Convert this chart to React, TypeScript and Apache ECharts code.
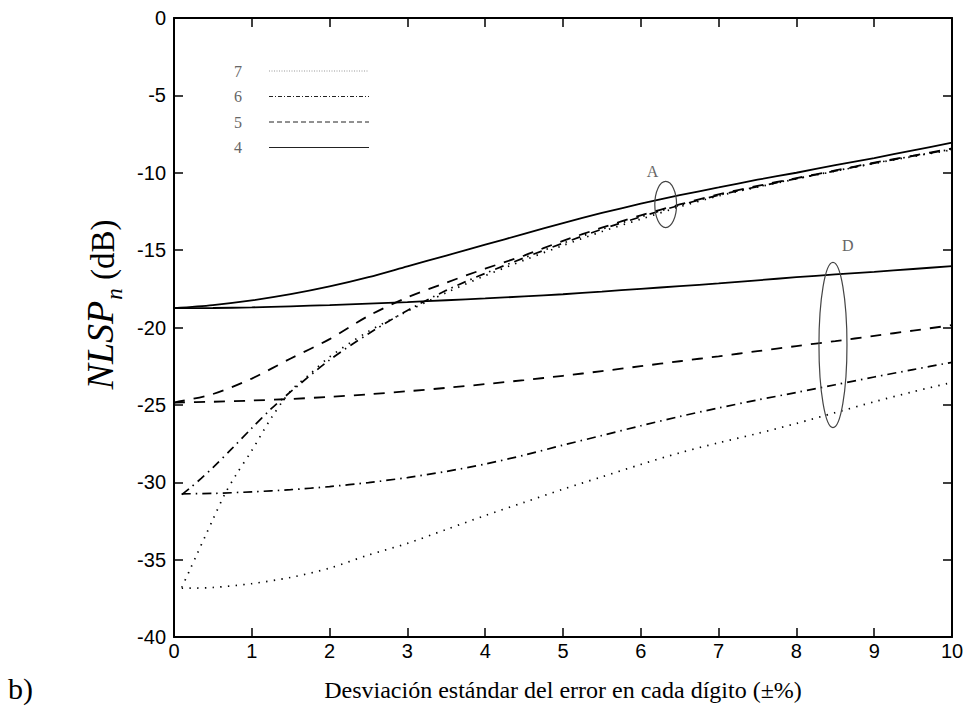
import React, { useEffect, useRef } from "react";
import * as echarts from "echarts";

// ---------- data ----------
const legendNames = ["7", "6", "5", "4"];

const xsFull = [0, 0.5, 1, 1.5, 2, 2.5, 3, 3.5, 4, 4.5, 5, 5.5, 6, 6.5, 7, 7.5, 8, 8.5, 9, 9.5, 10];
const xsFrom01 = [0.1, 0.5, 1, 1.5, 2, 2.5, 3, 3.5, 4, 4.5, 5, 5.5, 6, 6.5, 7, 7.5, 8, 8.5, 9, 9.5, 10];
const xs6A = [0.1, 0.2, 0.35, 0.5, 0.75, 1, 1.25, 1.5, 2, 2.5, 3, 3.5, 4, 4.5, 5, 5.5, 6, 6.5, 7, 7.5, 8, 8.5, 9, 9.5, 10];
const xs7A = [0.1, 0.2, 0.3, 0.4, 0.5, 0.65, 0.8, 1, 1.25, 1.5, 1.75, 2, 2.5, 3, 3.5, 4, 4.5, 5, 5.5, 6, 6.5, 7, 7.5, 8, 8.5, 9, 9.5, 10];

// group A (upper bundle)
const nlsp4A = [-18.75, -18.55, -18.25, -17.85, -17.35, -16.75, -16.05, -15.35, -14.65, -13.95, -13.25, -12.6, -12.0, -11.45, -10.95, -10.45, -10.0, -9.5, -9.05, -8.55, -8.06];
const nlsp5A = [-24.85, -24.3, -23.3, -22.0, -20.75, -19.25, -18.05, -17.1, -16.2, -15.35, -14.4, -13.55, -12.75, -12.05, -11.4, -10.85, -10.35, -9.85, -9.35, -8.9, -8.43];
const nlsp6A = [-30.8, -30.4, -29.75, -29.05, -27.8, -26.5, -25.25, -24.15, -22.1, -20.4, -18.9, -17.6, -16.5, -15.5, -14.55, -13.65, -12.85, -12.1, -11.45, -10.9, -10.38, -9.88, -9.38, -8.92, -8.48];
const nlsp7A = [-36.8, -35.7, -34.6, -33.5, -32.4, -30.8, -29.5, -27.95, -25.85, -24.1, -23.0, -21.9, -20.25, -18.95, -17.75, -16.65, -15.65, -14.7, -13.8, -13.0, -12.2, -11.5, -10.93, -10.4, -9.9, -9.4, -8.95, -8.52];

// group D (lower, flatter curves)
const nlsp4D = [-18.75, -18.74, -18.7, -18.63, -18.55, -18.46, -18.36, -18.24, -18.12, -17.99, -17.85, -17.68, -17.5, -17.33, -17.15, -16.95, -16.75, -16.57, -16.4, -16.22, -16.03];
const nlsp5D = [-24.85, -24.8, -24.72, -24.62, -24.48, -24.32, -24.12, -23.9, -23.66, -23.4, -23.12, -22.82, -22.5, -22.18, -21.86, -21.53, -21.2, -20.88, -20.54, -20.2, -19.85];
const nlsp6D = [-30.75, -30.72, -30.62, -30.48, -30.28, -30.02, -29.7, -29.3, -28.82, -28.25, -27.6, -26.98, -26.35, -25.75, -25.2, -24.68, -24.2, -23.7, -23.2, -22.72, -22.25];
const nlsp7D = [-36.85, -36.8, -36.55, -36.15, -35.55, -34.7, -33.95, -33.05, -32.15, -31.3, -30.45, -29.65, -28.85, -28.1, -27.45, -26.85, -26.2, -25.5, -24.8, -24.15, -23.55];

// annotations (data coordinates)
const annotations = [
  { label: "A", cx: 6.32, cy: -12.05, rx: 0.14, ry: 1.49, lx: 6.15, ly: -9.93 },
  { label: "D", cx: 8.47, cy: -21.13, rx: 0.18, ry: 5.34, lx: 8.66, ly: -14.73 },
];

const lineTypes: Record<string, any> = {
  "4": { type: "solid", width: 1.8 },
  "5": { type: [11, 9], width: 1.8 },
  "6": { type: [9, 5, 1.5, 5], width: 1.7 },
  "7": { type: [1.4, 6.3], width: 1.7 },
};

const legendLineTypes: Record<string, any> = {
  "7": { type: [1, 1.5], width: 1, color: "#999" },
  "6": { type: [4, 2, 1, 2], width: 1, color: "#222" },
  "5": { type: [5, 3], width: 1, color: "#222" },
  "4": { type: "solid", width: 1.2, color: "#222" },
};

const pairs = (xs: number[], ys: number[]) => xs.map((x, i) => [x, ys[i]]);

export default function App() {
  const ref = useRef<HTMLDivElement>(null);

  useEffect(() => {
    const chart = echarts.init(ref.current!, null, { renderer: "svg" });

    const mk = (name: string, xs: number[], ys: number[]) => ({
      type: "line",
      name,
      data: pairs(xs, ys),
      symbol: "none",
      smooth: 0.3,
      silent: true,
      lineStyle: { color: "#000", cap: "butt", ...lineTypes[name] },
      itemStyle: { color: "#000" },
      emphasis: { disabled: true },
    });

    const axisCommon = {
      type: "value",
      axisLine: { show: true, onZero: false, lineStyle: { color: "#000", width: 2 } },
      axisTick: { show: true, inside: true, length: 9, lineStyle: { color: "#000", width: 1.5 } },
      splitLine: { show: false },
    };

    const option: any = {
      animation: false,
      backgroundColor: "#fff",
      grid: { left: 174, right: 18, top: 18, bottom: 82, containLabel: false },
      xAxis: [
        {
          ...axisCommon,
          min: 0,
          max: 10,
          interval: 1,
          position: "bottom",
          axisLabel: { margin: 4, fontFamily: "Liberation Sans", fontSize: 20, color: "#000" },
          name: "Desviación estándar del error en cada dígito (±%)",
          nameLocation: "middle",
          nameGap: 41,
          nameTextStyle: { fontFamily: "Liberation Serif", fontSize: 24, color: "#000" },
        },
        {
          ...axisCommon,
          min: 0,
          max: 10,
          interval: 1,
          position: "top",
          axisLabel: { show: false },
        },
      ],
      yAxis: [
        {
          ...axisCommon,
          min: -40,
          max: 0,
          interval: 5,
          position: "left",
          axisLabel: { margin: 8, fontFamily: "Liberation Sans", fontSize: 20, color: "#000" },
          name: "{it|NLSP}{sub|n}{rm| (dB)}",
          nameLocation: "middle",
          nameGap: 46,
          nameTextStyle: {
            color: "#000",
            padding: [0, 0, 0, 46],
            rich: {
              it: { fontFamily: "Liberation Serif", fontStyle: "italic", fontSize: 38, color: "#000", lineHeight: 42, verticalAlign: "bottom" },
              sub: { fontFamily: "Liberation Serif", fontStyle: "italic", fontSize: 23, color: "#000", lineHeight: 42, verticalAlign: "bottom", padding: [0, 0, -7, 1] },
              rm: { fontFamily: "Liberation Serif", fontSize: 33, color: "#000", lineHeight: 42, verticalAlign: "bottom" },
            },
          },
        },
        {
          ...axisCommon,
          min: -40,
          max: 0,
          interval: 5,
          position: "right",
          axisLabel: { show: false },
        },
      ],
      legend: {
        orient: "vertical",
        left: 229,
        top: 58,
        itemWidth: 100,
        itemHeight: 16,
        itemGap: 9.5,
        align: "right",
        selectedMode: false,
        itemStyle: { opacity: 0 },
        textStyle: { fontFamily: "Liberation Serif", fontSize: 16, color: "#666", padding: [0, 22, 0, 0] },
        data: legendNames.map((n) => ({ name: n, lineStyle: legendLineTypes[n] })),
      },
      series: [
        mk("4", xsFull, nlsp4A),
        mk("4", xsFull, nlsp4D),
        mk("5", xsFull, nlsp5A),
        mk("5", xsFull, nlsp5D),
        mk("6", xs6A, nlsp6A),
        mk("6", xsFrom01, nlsp6D),
        mk("7", xs7A, nlsp7A),
        mk("7", xsFrom01, nlsp7D),
      ],
    };

    chart.setOption(option);

    const graphics: any[] = [];
    annotations.forEach((a) => {
      const c = chart.convertToPixel({ xAxisIndex: 0, yAxisIndex: 0 }, [a.cx, a.cy]) as number[];
      const e = chart.convertToPixel({ xAxisIndex: 0, yAxisIndex: 0 }, [a.cx + a.rx, a.cy + a.ry]) as number[];
      const l = chart.convertToPixel({ xAxisIndex: 0, yAxisIndex: 0 }, [a.lx, a.ly]) as number[];
      graphics.push({
        type: "ellipse",
        silent: true,
        z: 100,
        shape: { cx: c[0], cy: c[1], rx: Math.abs(e[0] - c[0]), ry: Math.abs(e[1] - c[1]) },
        style: { fill: "none", stroke: "#444", lineWidth: 1.2 },
      });
      graphics.push({
        type: "text",
        silent: true,
        z: 100,
        x: l[0],
        y: l[1],
        style: { text: a.label, fontFamily: "Liberation Serif", fontSize: 16, fill: "#666", align: "center", verticalAlign: "middle" },
      });
    });
    graphics.push({
      type: "text",
      silent: true,
      left: 8,
      top: 673,
      style: { text: "b)", fontFamily: "Liberation Serif", fontSize: 30, fill: "#000" },
    });
    chart.setOption({ graphic: graphics });

    return () => chart.dispose();
  }, []);

  return <div ref={ref} style={{ position: "fixed", left: 0, top: 0, width: 970, height: 719, background: "#fff" }} />;
}
